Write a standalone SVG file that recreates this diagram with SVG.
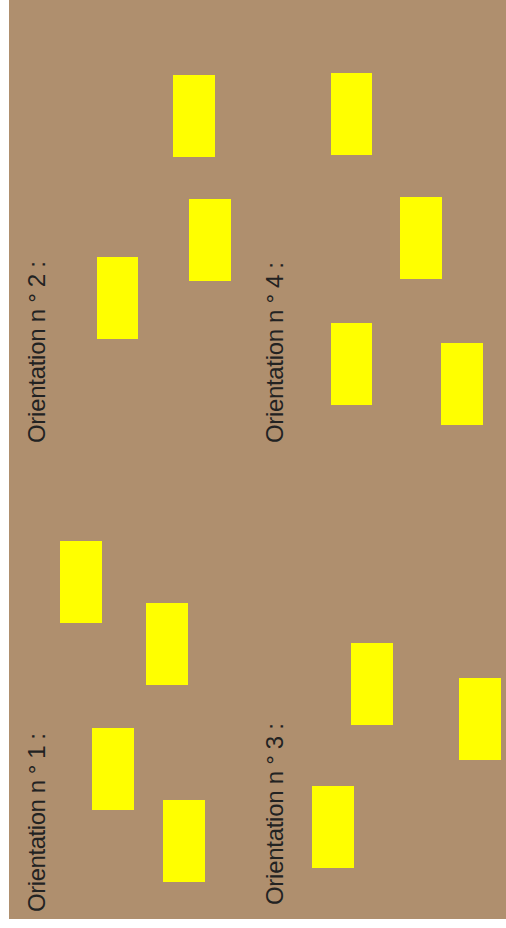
<svg xmlns="http://www.w3.org/2000/svg" width="506" height="928" viewBox="0 0 506 928">
<style>
.bg{fill:#AF8F6E}
.r{fill:#FFFF00}
.t{font-family:"Liberation Sans",Arial,sans-serif;font-size:24px;fill:#222222}
</style>
<rect x="0" y="0" width="506" height="928" fill="#FFFFFF"/>
<rect class="bg" x="9" y="0" width="497" height="919"/>
<g id="orientation2">
<text class="t" transform="translate(45,443) rotate(-90)" textLength="182" lengthAdjust="spacing">Orientation n ° 2 :</text>
<rect class="r" x="173" y="75" width="42" height="82"/>
<rect class="r" x="189" y="199" width="42" height="82"/>
<rect class="r" x="97" y="257" width="41" height="82"/>
</g>
<g id="orientation4">
<text class="t" transform="translate(283,443) rotate(-90)" textLength="181" lengthAdjust="spacing">Orientation n ° 4 :</text>
<rect class="r" x="331" y="73" width="41" height="82"/>
<rect class="r" x="400" y="197" width="42" height="82"/>
<rect class="r" x="331" y="323" width="41" height="82"/>
<rect class="r" x="441" y="343" width="42" height="82"/>
</g>
<g id="orientation1">
<text class="t" transform="translate(45,912) rotate(-90)" textLength="179" lengthAdjust="spacing">Orientation n ° 1 :</text>
<rect class="r" x="60" y="541" width="42" height="82"/>
<rect class="r" x="146" y="603" width="42" height="82"/>
<rect class="r" x="92" y="728" width="42" height="82"/>
<rect class="r" x="163" y="800" width="42" height="82"/>
</g>
<g id="orientation3">
<text class="t" transform="translate(283,905) rotate(-90)" textLength="182" lengthAdjust="spacing">Orientation n ° 3 :</text>
<rect class="r" x="351" y="643" width="42" height="82"/>
<rect class="r" x="459" y="678" width="42" height="82"/>
<rect class="r" x="312" y="786" width="42" height="82"/>
</g>
<g id="connectors"></g>
</svg>
